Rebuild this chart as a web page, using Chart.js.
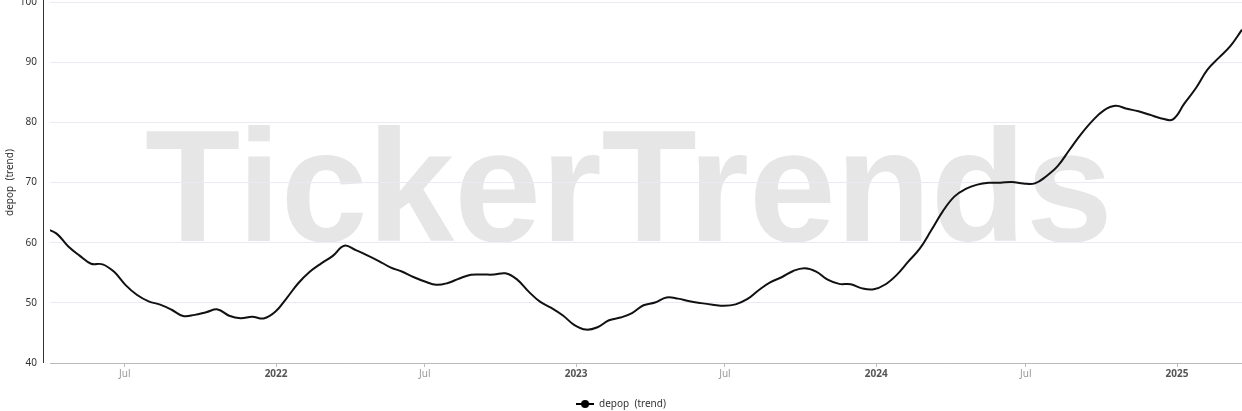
<!DOCTYPE html>
<html>
<head>
<meta charset="utf-8">
<script src="https://cdn.jsdelivr.net/npm/chart.js@4.4.1/dist/chart.umd.min.js"></script>
<style>
  html, body { margin: 0; padding: 0; background: #fff; }
  #wrap { width: 1242px; height: 411px; position: relative; }
</style>
</head>
<body>
<div id="wrap"><canvas id="trendChart"></canvas></div>
<script>
// datos (una muestra cada 14 dias)
const startDate = "2021-03-26";
const stepDays = 14;
const trendValues = [
  62.4, 61.5, 59.4, 57.85, 56.5, 56.4, 55.15, 52.95, 51.3, 50.25,
  49.7, 48.85, 47.8, 48.0, 48.45, 48.9, 47.85, 47.45, 47.7, 47.4,
  48.5, 50.8, 53.25, 55.15, 56.55, 57.8, 59.5, 58.75, 57.9, 56.95,
  55.9, 55.2, 54.3, 53.55, 53.0, 53.3, 54.05, 54.65, 54.7, 54.7,
  54.9, 53.9, 51.9, 50.2, 49.15, 47.9, 46.3, 45.55, 45.95, 47.1,
  47.55, 48.3, 49.6, 50.05, 50.9, 50.7, 50.25, 49.95, 49.7, 49.5,
  49.75, 50.6, 52.1, 53.4, 54.25, 55.3, 55.75, 55.2, 53.85, 53.15,
  53.1, 52.4, 52.25, 53.05, 54.65, 56.85, 59.0, 62.05, 65.2, 67.65,
  68.95, 69.65, 69.95, 69.95, 70.1, 69.85, 69.85, 71.05, 72.75, 75.4,
  78.0, 80.25, 82.0, 82.75, 82.25, 81.85, 81.25, 80.65, 80.5, 83.15,
  85.7, 88.75, 90.75, 92.7, 95.4
];
const xStart = "2021-04-01";
const xEnd = "2025-03-21";
const tickDates = ["2021-07-01", "2022-01-01", "2022-07-01", "2023-01-01",
                   "2023-07-01", "2024-01-01", "2024-07-01", "2025-01-01"];
const tickLabels = ["Jul", "2022", "Jul", "2023", "Jul", "2024", "Jul", "2025"];
const seriesName = "depop  (trend)";
const watermark = "TickerTrends";

Chart.defaults.font.family = "'Noto Sans', 'DejaVu Sans', sans-serif";
Chart.defaults.font.size = 10;

function dayNum(s) {
  const p = s.split("-").map(Number);
  return Date.UTC(p[0], p[1] - 1, p[2]) / 86400000;
}

const firstDay = dayNum(startDate);
const points = trendValues.map((v, i) => ({ x: firstDay + i * stepDays, y: v }));

// icono de la leyenda: linea con circulo
const legendIcon = document.createElement("canvas");
legendIcon.width = 18;
legendIcon.height = 10;
(function () {
  const c = legendIcon.getContext("2d");
  c.strokeStyle = "#000";
  c.lineWidth = 2;
  c.beginPath();
  c.moveTo(0, 5);
  c.lineTo(18, 5);
  c.stroke();
  c.fillStyle = "#000";
  c.beginPath();
  c.arc(9, 5, 4, 0, Math.PI * 2);
  c.fill();
})();

const watermarkPlugin = {
  id: "watermark",
  beforeDraw(chart) {
    const ctx = chart.ctx;
    ctx.save();
    ctx.font = "bold 160px 'Liberation Sans', Arial, sans-serif";
    ctx.fillStyle = "#e6e6e6";
    ctx.textAlign = "left";
    ctx.textBaseline = "alphabetic";
    const m = ctx.measureText(watermark);
    const inkW = m.actualBoundingBoxLeft + m.actualBoundingBoxRight;
    ctx.translate(146, 241);
    ctx.scale(961 / inkW, 1);
    ctx.fillText(watermark, m.actualBoundingBoxLeft, 0);
    ctx.restore();
  }
};

const yLinePlugin = {
  id: "yLine",
  afterDraw(chart) {
    const ctx = chart.ctx;
    const area = chart.chartArea;
    ctx.save();
    ctx.strokeStyle = "#333";
    ctx.lineWidth = 1;
    ctx.beginPath();
    ctx.moveTo(area.left - 6.5, 0);
    ctx.lineTo(area.left - 6.5, area.bottom);
    ctx.stroke();
    ctx.restore();
  }
};

new Chart("trendChart", {
  type: "line",
  data: {
    datasets: [{
      label: seriesName,
      data: points,
      borderColor: "#111",
      borderWidth: 2,
      pointRadius: 0,
      tension: 0.4,
      fill: false
    }]
  },
  options: {
    responsive: true,
    maintainAspectRatio: false,
    animation: false,
    layout: { padding: { top: 2, right: 0, left: 0, bottom: -8 } },
    plugins: {
      legend: {
        position: "bottom",
        labels: {
          usePointStyle: true,
          pointStyle: legendIcon,
          pointStyleWidth: 18,
          color: "#333",
          padding: 2,
          font: { size: 10 }
        }
      },
      tooltip: { enabled: false }
    },
    scales: {
      x: {
        type: "linear",
        min: dayNum(xStart),
        max: dayNum(xEnd),
        afterBuildTicks: (scale) => {
          scale.ticks = tickDates.map((d) => ({ value: dayNum(d) }));
        },
        afterFit: (scale) => {
          scale.height = 34;
          scale.paddingLeft = 0;
          scale.paddingRight = 0;
        },
        grid: {
          drawOnChartArea: false,
          drawTicks: true,
          tickLength: 4,
          color: "#bbb"
        },
        border: { color: "#bbb", width: 1 },
        ticks: {
          autoSkip: false,
          maxRotation: 0,
          padding: 1,
          callback: (value, index) => tickLabels[index],
          color: (ctx) => (tickLabels[ctx.index] === "Jul" ? "#999" : "#555"),
          font: (ctx) => ({
            size: 10,
            weight: tickLabels[ctx.index] === "Jul" ? "normal" : "bold"
          })
        }
      },
      y: {
        min: 40,
        max: 100,
        afterFit: (scale) => {
          scale.width = 50;
          scale.paddingTop = 0;
          scale.paddingBottom = 0;
        },
        grid: { color: "#e8eaf5", drawTicks: false },
        border: { display: false },
        ticks: { stepSize: 10, padding: 13, color: "#333" },
        title: { display: true, text: seriesName, color: "#333", font: { size: 10 } }
      }
    }
  },
  plugins: [watermarkPlugin, yLinePlugin]
});
</script>
</body>
</html>
